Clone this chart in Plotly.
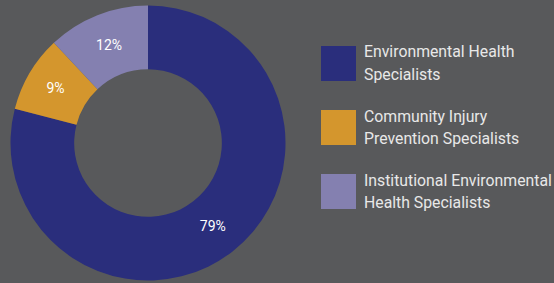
import plotly.graph_objects as go

labels = ["Environmental Health<br>Specialists",
          "Community Injury<br>Prevention Specialists",
          "Institutional Environmental<br>Health Specialists"]
values = [79, 9, 12]
colors = ["#2a2e7c", "#d4962d", "#8480b0"]

W, H = 554, 283
BG = "#58595b"

fig = go.Figure()
fig.add_trace(go.Pie(
    labels=labels, values=values, sort=False, direction="clockwise", rotation=0,
    hole=0.537, marker=dict(colors=colors, line=dict(width=0)),
    textinfo="percent", texttemplate="%{percent:.0%}", textposition="inside",
    insidetextorientation="horizontal",
    textfont=dict(color="white", size=14, family="Roboto"),
    domain=dict(x=[10.5 / W, 285.5 / W], y=[2.5 / H, 277.5 / H]),
    showlegend=False, hoverinfo="label+percent",
))

shapes = []
annotations = []
sq_x0, sq_size, top0, step = 321, 35, 46, 64
for i, (lab, col) in enumerate(zip(labels, colors)):
    y0 = top0 + i * step
    shapes.append(dict(type="rect", xref="paper", yref="paper",
                       x0=sq_x0 / W, x1=(sq_x0 + sq_size) / W,
                       y0=1 - (y0 + sq_size) / H, y1=1 - y0 / H,
                       fillcolor=col, line=dict(width=0)))
    for j, line in enumerate(lab.split("<br>")):
        cy = y0 + 6 + j * 22
        annotations.append(dict(text=line, xref="paper", yref="paper",
                                x=362 / W, y=1 - cy / H, xanchor="left", yanchor="middle",
                                showarrow=False,
                                font=dict(color="#e8e8e8", size=15.8, family="Roboto")))

fig.update_layout(width=W, height=H, margin=dict(l=0, r=0, t=0, b=0),
                  paper_bgcolor=BG, plot_bgcolor=BG,
                  shapes=shapes, annotations=annotations)
fig.write_html("out.html", config={"displayModeBar": False},
               post_script="document.body.style.margin='0';document.body.style.background='%s';" % BG)
